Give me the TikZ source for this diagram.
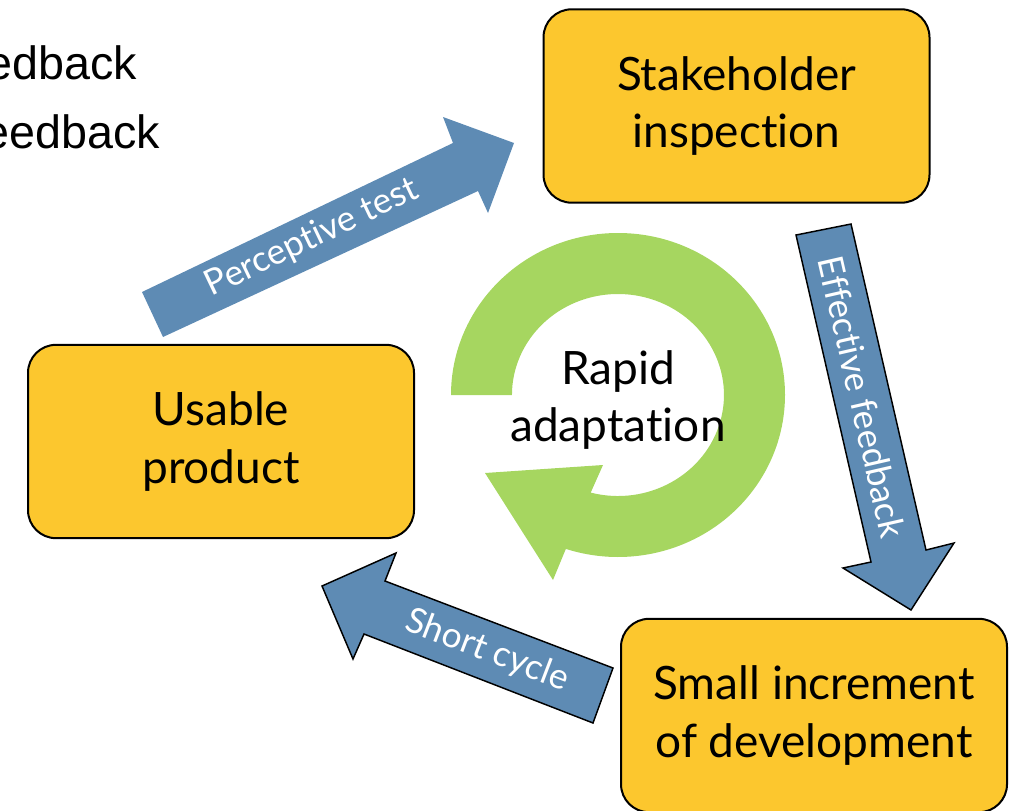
\documentclass[tikz,border=0pt]{standalone}
\usepackage{fontspec}
\setmainfont{Lato}[Ligatures={NoCommon,NoContextual}]
\newfontfamily\arialfont{Liberation Sans}
\definecolor{boxyellow}{RGB}{252,199,46}
\definecolor{arrowblue}{RGB}{94,139,180}
\definecolor{ringgreen}{RGB}{166,214,96}
\begin{document}
\begin{tikzpicture}[x=0.75pt,y=-0.75pt,
  stagebox/.style={draw=black,line width=1.5pt,fill=boxyellow,rounded corners=21pt,
    minimum width=289.5pt,minimum height=145pt,align=center,inner sep=0pt,
    font=\fontsize{34.5}{43}\selectfont},
  blockarrow/.style={fill=arrowblue},
  outlinedarrow/.style={fill=arrowblue,draw=black,line width=1.1pt,line join=miter},
  arrowlabel/.style={text=white,font=\fontsize{26.5}{30}\selectfont,inner sep=0pt},
  cornertext/.style={font=\arialfont\fontsize{35}{42}\selectfont,inner sep=0pt}]
\useasboundingbox (0,0) rectangle (1013,810);
\clip (0,0) rectangle (1013,810);

% partial text top left
\node[cornertext,anchor=base east] (fb1) at (137,79) {feedback};
\node[cornertext,anchor=base east] (fb2) at (160,148) {feedback};

% boxes
\node[stagebox] (stake) at (736.5,106) {Stakeholder\\inspection};
\node[stagebox] (usable) at (221,441.5) {Usable\\product};
\node[stagebox] (small) at (814,715.5) {Small increment\\of development};

% green circular arrow
\fill[ringgreen] (451,395) arc[start angle=180,end angle=468.2,x radius=167,y radius=162]
  -- (553,580) -- (485,473) -- (603,465) -- (590.7,492.6)
  arc[start angle=464.9,end angle=180,x radius=106,y radius=101] -- cycle;
\node[font=\fontsize{34.5}{43}\selectfont,align=center,inner sep=0pt] (rapid) at (618,400) {Rapid\\adaptation};

% perceptive test arrow
\fill[blockarrow] (142,292) -- (453,143) -- (443,117) -- (514,143) -- (488,213) -- (478,191) -- (163,337) -- cycle;
\node[arrowlabel,rotate=25.6] (perc) at (312,238) {Perceptive test};

% effective feedback arrow
\filldraw[outlinedarrow] (796,235) -- (851,224) -- (926,550) -- (954,543) -- (911,610) -- (843,568) -- (871,562) -- cycle;
\node[arrowlabel,rotate=-77.1] (eff) at (862,397) {Effective feedback};

% short cycle arrow
\filldraw[outlinedarrow] (613,668) -- (385,581) -- (396,553) -- (322,586) -- (353,659) -- (364,634) -- (593,723) -- cycle;
\node[arrowlabel,rotate=-20.9] (short) at (487,651) {Short cycle};
\end{tikzpicture}
\end{document}
